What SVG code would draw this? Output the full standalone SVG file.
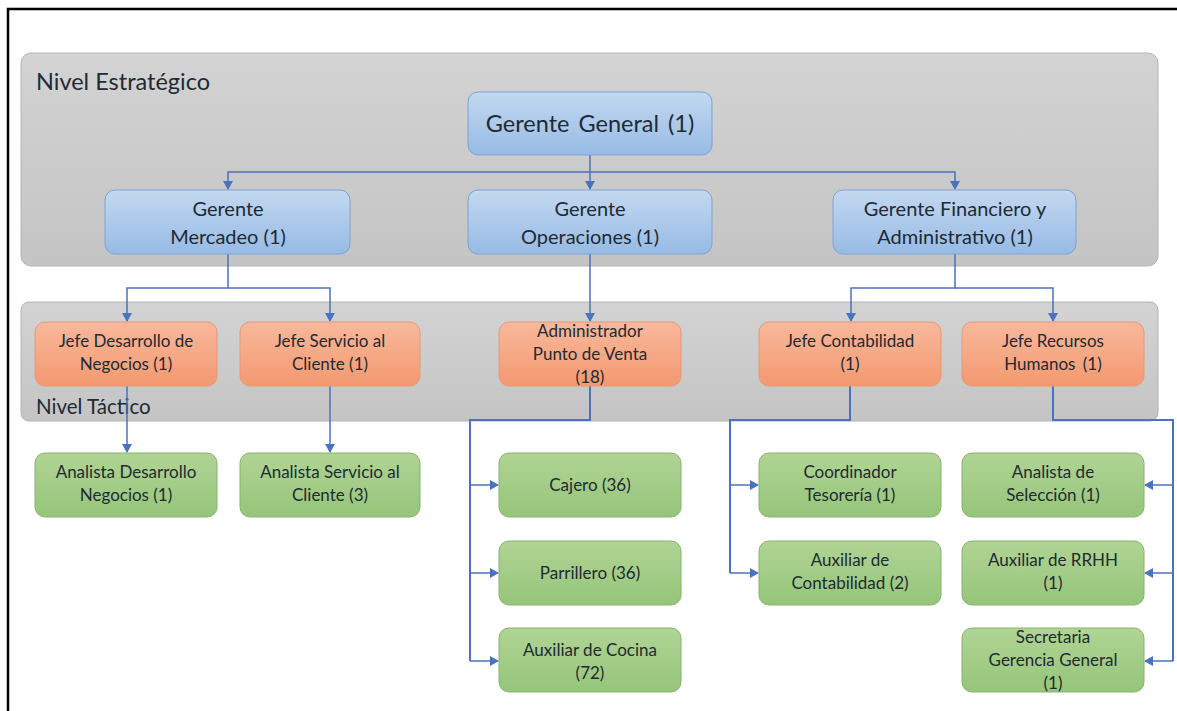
<svg xmlns="http://www.w3.org/2000/svg" width="1177" height="711" viewBox="0 0 1177 711">
  <defs>
    <linearGradient id="gBand" x1="0" y1="0" x2="0" y2="1">
      <stop offset="0" stop-color="#d3d3d3"/>
      <stop offset="1" stop-color="#c4c4c4"/>
    </linearGradient>
    <linearGradient id="gBlue" x1="0" y1="0" x2="0" y2="1">
      <stop offset="0" stop-color="#c3d8f0"/>
      <stop offset="1" stop-color="#97bbe5"/>
    </linearGradient>
    <linearGradient id="gOrange" x1="0" y1="0" x2="0" y2="1">
      <stop offset="0" stop-color="#f8b89c"/>
      <stop offset="1" stop-color="#f3996f"/>
    </linearGradient>
    <linearGradient id="gGreen" x1="0" y1="0" x2="0" y2="1">
      <stop offset="0" stop-color="#b0d494"/>
      <stop offset="1" stop-color="#95c57a"/>
    </linearGradient>
  </defs>
  <style>
    .band { fill: url(#gBand); stroke: #b4b4b4; stroke-width: 1; }
    .blue { fill: url(#gBlue); stroke: #7ea3d2; stroke-width: 1; }
    .orange { fill: url(#gOrange); stroke: #e59a78; stroke-width: 1; }
    .green { fill: url(#gGreen); stroke: #86b46c; stroke-width: 1; }
    text { font-family: Lato, "Liberation Sans", sans-serif; fill: #222a33; text-anchor: middle; }
    .lbl { font-size: 23.5px; text-anchor: start; }
    .t22 { font-size: 23.5px; word-spacing: 3px; }
    .t18 { font-size: 20px; }
    .t15 { font-size: 17px; }
    .conn { fill: none; stroke: #4a72c0; stroke-width: 1.5; }
    .conn2 { fill: none; stroke: #4a72c0; stroke-width: 2; }
    .head { fill: #4a72c0; }
  </style>

  <!-- frame -->
  <path d="M8,711 V9 H1177" fill="none" stroke="#000" stroke-width="2.5"/>

  <!-- level bands -->
  <g id="band-estrategico">
    <rect class="band" x="21" y="53" width="1137" height="213" rx="10"/>
    <text class="lbl" x="36" y="90">Nivel Estratégico</text>
  </g>
  <g id="band-tactico">
    <rect class="band" x="21" y="302" width="1137" height="119" rx="8"/>
    <text class="lbl" x="36" y="414" style="font-size:20.5px">Nivel Táctico</text>
  </g>

  <!-- connectors -->
  <g id="connectors">
    <path class="conn" d="M590,155 V189"/>
    <path class="conn" d="M228,189 V172 H955 V189"/>
    <path class="conn" d="M228,254 V288 H127 V321"/>
    <path class="conn" d="M228,288 H330 V321"/>
    <path class="conn" d="M590,254 V321"/>
    <path class="conn" d="M955,254 V288 H851 V321"/>
    <path class="conn" d="M955,288 H1053 V321"/>
    <path class="conn" d="M127,386 V452"/>
    <path class="conn" d="M330,386 V452"/>
    <path class="conn2" d="M590,386 V420 H470 V661"/>
    <path class="conn" d="M470,485 H498"/>
    <path class="conn" d="M470,573 H498"/>
    <path class="conn" d="M470,661 H498"/>
    <path class="conn2" d="M850,386 V420 H730 V573"/>
    <path class="conn" d="M730,485 H758"/>
    <path class="conn" d="M730,573 H758"/>
    <path class="conn2" d="M1053,386 V420 H1173 V661"/>
    <path class="conn" d="M1173,485 H1145"/>
    <path class="conn" d="M1173,573 H1145"/>
    <path class="conn" d="M1173,661 H1145"/>
    <!-- arrowheads -->
    <g class="head">
      <path d="M585,181 L595,181 L590,190 z"/>
      <path d="M223,181 L233,181 L228,190 z"/>
      <path d="M950,181 L960,181 L955,190 z"/>
      <path d="M122,313 L132,313 L127,322 z"/>
      <path d="M325,313 L335,313 L330,322 z"/>
      <path d="M585,313 L595,313 L590,322 z"/>
      <path d="M846,313 L856,313 L851,322 z"/>
      <path d="M1048,313 L1058,313 L1053,322 z"/>
      <path d="M122,444 L132,444 L127,453 z"/>
      <path d="M325,444 L335,444 L330,453 z"/>
      <path d="M490,480 L490,490 L499,485 z"/>
      <path d="M490,568 L490,578 L499,573 z"/>
      <path d="M490,656 L490,666 L499,661 z"/>
      <path d="M750,480 L750,490 L759,485 z"/>
      <path d="M750,568 L750,578 L759,573 z"/>
      <path d="M1153,480 L1153,490 L1144,485 z"/>
      <path d="M1153,568 L1153,578 L1144,573 z"/>
      <path d="M1153,656 L1153,666 L1144,661 z"/>
    </g>
  </g>

  <!-- strategic level -->
  <g id="gerente-general">
    <rect class="blue" x="468" y="92" width="244" height="63" rx="10"/>
    <text class="t22" x="590" y="132">Gerente General (1)</text>
  </g>
  <g id="gerente-mercadeo">
    <rect class="blue" x="105" y="190" width="245" height="64" rx="10"/>
    <text class="t18" x="228" y="216">Gerente</text>
    <text class="t18" x="228" y="244">Mercadeo (1)</text>
  </g>
  <g id="gerente-operaciones">
    <rect class="blue" x="468" y="190" width="244" height="64" rx="10"/>
    <text class="t18" x="590" y="216">Gerente</text>
    <text class="t18" x="590" y="244">Operaciones (1)</text>
  </g>
  <g id="gerente-financiero">
    <rect class="blue" x="833" y="190" width="243" height="64" rx="10"/>
    <text class="t18" x="955" y="216">Gerente Financiero y</text>
    <text class="t18" x="955" y="244">Administrativo (1)</text>
  </g>

  <!-- tactical level -->
  <g id="jefe-desarrollo">
    <rect class="orange" x="35" y="322" width="182" height="64" rx="10"/>
    <text class="t15" x="126" y="347">Jefe Desarrollo de</text>
    <text class="t15" x="126" y="370">Negocios (1)</text>
  </g>
  <g id="jefe-servicio">
    <rect class="orange" x="240" y="322" width="180" height="64" rx="10"/>
    <text class="t15" x="330" y="347">Jefe Servicio al</text>
    <text class="t15" x="330" y="370">Cliente (1)</text>
  </g>
  <g id="administrador">
    <rect class="orange" x="499" y="322" width="182" height="64" rx="10"/>
    <text class="t15" x="590" y="337">Administrador</text>
    <text class="t15" x="590" y="360">Punto de Venta</text>
    <text class="t15" x="590" y="383">(18)</text>
  </g>
  <g id="jefe-contabilidad">
    <rect class="orange" x="759" y="322" width="182" height="64" rx="10"/>
    <text class="t15" x="850" y="347">Jefe Contabilidad</text>
    <text class="t15" x="850" y="370">(1)</text>
  </g>
  <g id="jefe-recursos">
    <rect class="orange" x="962" y="322" width="182" height="64" rx="10"/>
    <text class="t15" x="1053" y="347">Jefe Recursos</text>
    <text class="t15" x="1053" y="370" style="word-spacing:3px">Humanos (1)</text>
  </g>

  <!-- operational level -->
  <g id="analista-desarrollo">
    <rect class="green" x="35" y="453" width="182" height="64" rx="10"/>
    <text class="t15" x="126" y="478">Analista Desarrollo</text>
    <text class="t15" x="126" y="501">Negocios (1)</text>
  </g>
  <g id="analista-servicio">
    <rect class="green" x="240" y="453" width="180" height="64" rx="10"/>
    <text class="t15" x="330" y="478">Analista Servicio al</text>
    <text class="t15" x="330" y="501">Cliente (3)</text>
  </g>
  <g id="cajero">
    <rect class="green" x="499" y="453" width="182" height="64" rx="10"/>
    <text class="t15" x="590" y="491">Cajero (36)</text>
  </g>
  <g id="parrillero">
    <rect class="green" x="499" y="541" width="182" height="64" rx="10"/>
    <text class="t15" x="590" y="579">Parrillero (36)</text>
  </g>
  <g id="auxiliar-cocina">
    <rect class="green" x="499" y="628" width="182" height="64" rx="10"/>
    <text class="t15" x="590" y="656">Auxiliar de Cocina</text>
    <text class="t15" x="590" y="679">(72)</text>
  </g>
  <g id="coordinador-tesoreria">
    <rect class="green" x="759" y="453" width="182" height="64" rx="10"/>
    <text class="t15" x="850" y="478">Coordinador</text>
    <text class="t15" x="850" y="501">Tesorería (1)</text>
  </g>
  <g id="auxiliar-contabilidad">
    <rect class="green" x="759" y="541" width="182" height="64" rx="10"/>
    <text class="t15" x="850" y="566">Auxiliar de</text>
    <text class="t15" x="850" y="589">Contabilidad (2)</text>
  </g>
  <g id="analista-seleccion">
    <rect class="green" x="962" y="453" width="182" height="64" rx="10"/>
    <text class="t15" x="1053" y="478">Analista de</text>
    <text class="t15" x="1053" y="501">Selección (1)</text>
  </g>
  <g id="auxiliar-rrhh">
    <rect class="green" x="962" y="541" width="182" height="64" rx="10"/>
    <text class="t15" x="1053" y="566">Auxiliar de RRHH</text>
    <text class="t15" x="1053" y="589">(1)</text>
  </g>
  <g id="secretaria">
    <rect class="green" x="962" y="628" width="182" height="64" rx="10"/>
    <text class="t15" x="1053" y="643">Secretaria</text>
    <text class="t15" x="1053" y="666">Gerencia General</text>
    <text class="t15" x="1053" y="689">(1)</text>
  </g>
</svg>
